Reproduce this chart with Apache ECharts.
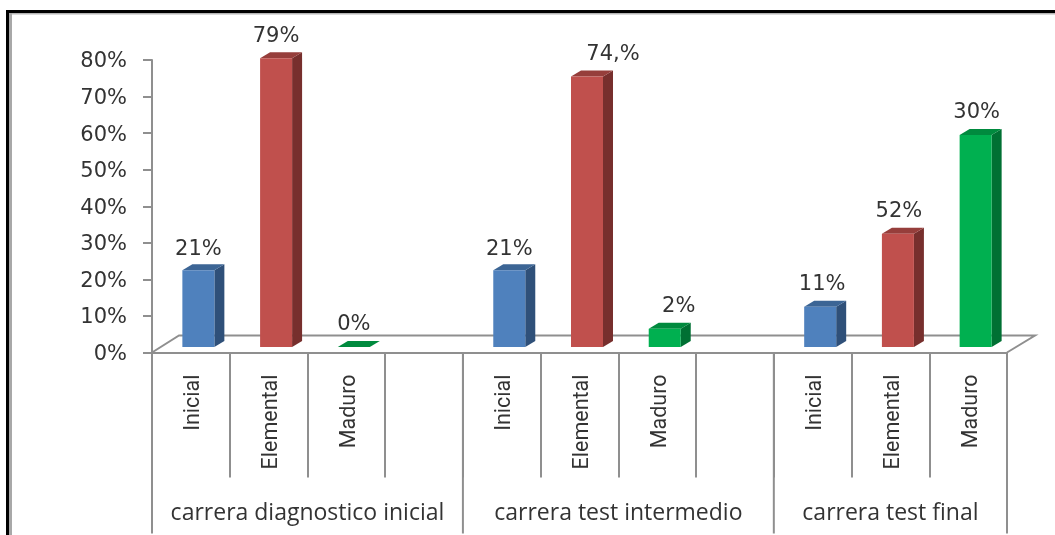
<!DOCTYPE html>
<html>
<head>
<meta charset="utf-8">
<style>html,body{margin:0;padding:0;background:#fff}#c{width:1055px;height:535px}</style>
<script src="https://cdn.jsdelivr.net/npm/echarts@6/dist/echarts.min.js"></script>
</head>
<body>
<div id="c"></div>
<script>
var categories = ['Inicial','Elemental','Maduro','','Inicial','Elemental','Maduro','','Inicial','Elemental','Maduro'];
var barValues = [21,79,0,null,21,74,5,null,11,31,58];
var valueLabels = ['21%','79%','0%','','21%','74,%','2%','','11%','52%','30%'];
var barLevels = ['a','b','c','','a','b','c','','a','b','c'];
var groupNames = ['carrera diagnostico inicial','carrera test intermedio','carrera test final'];
var groupFirst = [0,4,8];
var groupLast = [3,7,10];

var axisGray = '#8f8f8f';
var textColor = '#333333';
var palette = {
  a:{front:'#4f81bd',side:'#2f5079',top:'#3c6595'},
  b:{front:'#c0504d',side:'#772f2d',top:'#963e3b'},
  c:{front:'#00b050',side:'#007033',top:'#008a3e'}
};
var depthX = 10, depthY = 6, barW = 32, barShift = 7.5, baseLift = 5.5;
var labelNudge = {0:[0,3],1:[0,2],2:[0,2],4:[0,3],5:[26,2],6:[14,2],8:[2,2],9:[1,2],10:[1,2]};

function poly(pts,fill){return {type:'polygon',shape:{points:pts},style:{fill:fill,stroke:null}};}

var chart = echarts.init(document.getElementById('c'),null,{renderer:'canvas'});
chart.setOption({
  animation:false,
  backgroundColor:'#ffffff',
  grid:{left:152,right:48,top:60,bottom:182.5,containLabel:false},
  xAxis:{type:'category',data:categories,boundaryGap:true,
    axisLine:{show:true,lineStyle:{color:axisGray,width:2}},
    axisTick:{show:true,length:125,interval:0,alignWithLabel:false,lineStyle:{color:axisGray,width:2}},
    axisLabel:{interval:0,rotate:90,margin:22,color:textColor,
      formatter:function(v){return v?'{t|'+v+'}':'';},
      rich:{t:{fontFamily:'Roboto',fontSize:21.5,color:textColor,padding:[6,0,0,0]}}},
    splitLine:{show:false}},
  yAxis:{type:'value',min:0,max:80,interval:10,
    axisLine:{show:true,lineStyle:{color:axisGray,width:2}},
    axisTick:{show:true,length:9,lineStyle:{color:axisGray,width:2}},
    axisLabel:{margin:25,color:textColor,
      formatter:'{t|{value}%}',
      rich:{t:{fontFamily:'"DejaVu Sans"',fontSize:21,color:textColor,padding:[4,0,0,0]}}},
    splitLine:{show:false}},
  series:[
    {type:'custom',name:'floor',z:1,silent:true,clip:false,data:[[0,0]],
     encode:{x:0,y:1},
     renderItem:function(p,api){
       var band=api.size([1,0])[0];
       var a=api.coord([0,0]), b=api.coord([categories.length-1,0]);
       var x0=a[0]-band/2,x1=b[0]+band/2,y=a[1];
       var ln={stroke:axisGray,lineWidth:2,fill:null};
       return {type:'group',children:[
         {type:'polyline',shape:{points:[[x0,y],[x0+27,y-17],[x1+28,y-17],[x1,y]]},style:ln},
         {type:'line',shape:{x1:x0,y1:y,x2:x0,y2:y+181},style:ln}
       ]};
     }},
    {type:'custom',name:'groups',z:2,silent:true,clip:false,
     data:groupNames.map(function(n,i){return [groupFirst[i],groupLast[i],n];}),
     encode:{x:0,y:-1},
     renderItem:function(p,api){
       var band=api.size([1,0])[0];
       var y0=api.coord([0,0])[1];
       var f=api.coord([api.value(0),0])[0]-band/2;
       var l=api.coord([api.value(1),0])[0]+band/2;
       var name=groupNames[p.dataIndex];
       return {type:'group',children:[
         {type:'line',shape:{x1:l,y1:y0,x2:l,y2:y0+181},style:{stroke:axisGray,lineWidth:2,fill:null}},
         {type:'text',style:{x:(f+l)/2,y:y0+161,text:name,textAlign:'center',textVerticalAlign:'middle',
           fontFamily:'"Open Sans"',fontSize:23,fill:textColor}}
       ]};
     }},
    {type:'custom',name:'bars',z:3,clip:false,
     data:barValues.map(function(v,i){return [i,v];}),
     encode:{x:0,y:1},
     renderItem:function(p,api){
       var i=p.dataIndex, v=barValues[i];
       if(v===null) return null;
       var c=palette[barLevels[i]];
       var base=api.coord([i,0]), top=api.coord([i,v]);
       var xl=base[0]+barShift-barW/2, xr=xl+barW;
       var yb=base[1]-baseLift, yt=top[1]-baseLift;
       var nudge=labelNudge[i]||[0,0];
       var kids=[];
       if(v>0){
         kids.push(poly([[xr,yb],[xr+depthX,yb-depthY],[xr+depthX,yt-depthY],[xr,yt]],c.side));
         kids.push(poly([[xl,yt],[xr,yt],[xr+depthX,yt-depthY],[xl+depthX,yt-depthY]],c.top));
         kids.push(poly([[xl,yb],[xr,yb],[xr,yt],[xl,yt]],c.front));
       }else{
         kids.push(poly([[xl,yb],[xr,yb],[xr+depthX,yb-depthY],[xl+depthX,yb-depthY]],c.top));
       }
       kids.push({type:'text',style:{x:(xl+xr)/2+nudge[0],y:yt-24+nudge[1],text:valueLabels[i],
         textAlign:'center',textVerticalAlign:'middle',fontFamily:'"DejaVu Sans"',fontSize:21,fill:textColor}});
       return {type:'group',children:kids};
     }}
  ],
  graphic:[
    {type:'rect',silent:true,z:10,shape:{x:6,y:10,width:1060,height:3},style:{fill:'#000'}},
    {type:'rect',silent:true,z:10,shape:{x:9,y:13,width:1060,height:1.5},style:{fill:'#b5b5b5'}},
    {type:'rect',silent:true,z:10,shape:{x:6,y:10,width:3,height:530},style:{fill:'#000'}},
    {type:'rect',silent:true,z:10,shape:{x:9,y:13,width:3,height:530},style:{fill:'#a8a8a8'}}
  ]
});
</script>
</body>
</html>
